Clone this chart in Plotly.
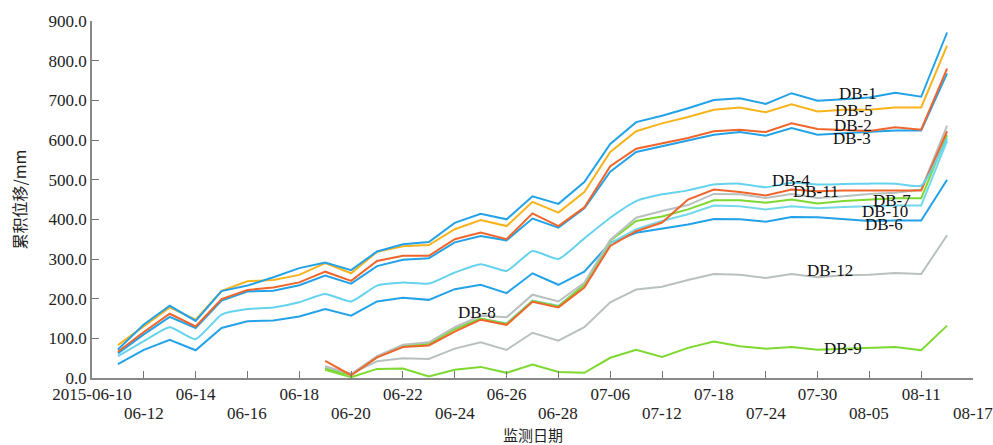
import plotly.graph_objects as go

# ---- categories (monitoring dates) ----
DATES = ["2015-06-10", "06-11", "06-12", "06-13", "06-14", "06-15", "06-16", "06-17",
         "06-18", "06-19", "06-20", "06-21", "06-22", "06-23", "06-24", "06-25",
         "06-26", "06-27", "06-28", "07-02", "07-06", "07-09", "07-12", "07-15",
         "07-18", "07-21", "07-24", "07-27", "07-30", "08-02", "08-05", "08-08",
         "08-11", "08-14", "08-17"]

TOP_TICKS = ["2015-06-10", "06-14", "06-18", "06-22", "06-26", "07-06", "07-18", "07-30", "08-11"]
BOTTOM_TICKS = ["06-12", "06-16", "06-20", "06-24", "06-28", "07-12", "07-24", "08-05", "08-17"]

# early points: DATES[1:34]; late points: DATES[9:34]
EARLY_DATES = DATES[1:34]
LATE_DATES = DATES[9:34]

DB1 = [72, 135, 182, 144, 219, 233, 254, 277, 291, 272, 319, 337, 343, 391, 414, 400, 458,
       439, 494, 590, 645, 661, 680, 701, 705, 691, 718, 699, 703, 707, 719, 709, 871]
DB5 = [83, 130, 178, 147, 220, 244, 247, 260, 290, 264, 318, 332, 335, 375, 398, 383, 444,
       417, 469, 570, 622, 642, 658, 676, 682, 670, 690, 672, 676, 676, 682, 682, 838]
DB2 = [66, 116, 162, 130, 199, 222, 228, 241, 268, 245, 295, 308, 308, 350, 367, 350, 415,
       383, 430, 534, 578, 592, 605, 622, 626, 620, 642, 628, 626, 623, 632, 626, 780]
DB3 = [62, 110, 154, 126, 195, 218, 220, 234, 258, 238, 282, 298, 302, 342, 358, 347, 402,
       379, 428, 520, 570, 584, 599, 613, 620, 611, 630, 613, 617, 620, 624, 624, 768]
DB4 = [55, 93, 128, 98, 160, 174, 178, 191, 212, 193, 233, 241, 238, 266, 287, 270, 320,
       300, 352, 404, 446, 463, 473, 488, 490, 481, 492, 488, 489, 490, 490, 485, 605]
DB6 = [35, 71, 96, 70, 126, 143, 145, 155, 174, 157, 193, 202, 197, 224, 235, 214, 264,
       235, 268, 341, 366, 377, 387, 401, 400, 394, 406, 405, 400, 396, 397, 397, 500]

DB7 = [28, 10, 55, 84, 90, 128, 157, 153, 210, 193, 240, 348, 404, 421, 436, 464, 463,
       454, 464, 454, 458, 464, 467, 475, 636]
DB8 = [24, 8, 53, 80, 86, 123, 150, 136, 194, 180, 236, 346, 396, 407, 425, 448, 448,
       442, 450, 440, 446, 450, 453, 453, 612]
DB10 = [26, 9, 52, 81, 87, 125, 149, 138, 195, 182, 234, 340, 375, 396, 413, 435, 433,
        425, 433, 428, 431, 433, 435, 435, 598]
DB11 = [43, 7, 52, 78, 82, 117, 147, 134, 192, 178, 228, 333, 370, 392, 450, 475, 469,
        460, 475, 471, 473, 473, 473, 473, 622]
DB12 = [30, 11, 42, 50, 48, 74, 90, 71, 114, 94, 128, 191, 223, 230, 247, 262, 260,
        252, 262, 254, 259, 260, 265, 262, 360]
DB9 = [21, 2, 23, 24, 4, 21, 28, 13, 34, 15, 13, 51, 71, 53, 76, 92, 80,
       74, 78, 71, 74, 76, 78, 70, 132]

BLUE = "#23A2E8"
YELLOW = "#F6B41A"
ORANGE = "#F0652B"
CYAN = "#66D3EE"
LCYAN = "#74D8EC"
GREEN = "#7DD830"
GREY = "#B9C0C0"

series = [
    ("DB-12", LATE_DATES, DB12, GREY, "linear"),
    ("DB-9", LATE_DATES, DB9, GREEN, "linear"),
    ("DB-6", EARLY_DATES, DB6, BLUE, "linear"),
    ("DB-10", LATE_DATES, DB10, LCYAN, "linear"),
    ("DB-8", LATE_DATES, DB8, GREEN, "linear"),
    ("DB-7", LATE_DATES, DB7, GREY, "linear"),
    ("DB-11", LATE_DATES, DB11, ORANGE, "linear"),
    ("DB-4", EARLY_DATES, DB4, CYAN, "spline"),
    ("DB-3", EARLY_DATES, DB3, BLUE, "linear"),
    ("DB-2", EARLY_DATES, DB2, ORANGE, "linear"),
    ("DB-5", EARLY_DATES, DB5, YELLOW, "linear"),
    ("DB-1", EARLY_DATES, DB1, BLUE, "linear"),
]

fig = go.Figure()
for name, xs, ys, color, shape in series:
    line = dict(color=color, width=2, shape=shape)
    if shape == "spline":
        line["smoothing"] = 0.5
    fig.add_trace(go.Scatter(x=xs, y=ys, mode="lines", name=name, line=line))

SERIF = "Liberation Serif"
CJK = "Noto Sans CJK SC"

# series name labels (category index, value)
LABELS = [("DB-1", 29.55, 718), ("DB-5", 29.4, 674), ("DB-2", 29.37, 637),
          ("DB-3", 29.33, 605), ("DB-4", 26.98, 498), ("DB-11", 27.94, 469),
          ("DB-7", 30.88, 448), ("DB-10", 30.6, 421), ("DB-6", 30.58, 387),
          ("DB-12", 28.47, 272), ("DB-9", 29.0, 74), ("DB-8", 14.85, 164)]
for txt, xk, yv in LABELS:
    fig.add_annotation(x=xk, y=yv, xref="x", yref="y", text=txt, showarrow=False,
                       xanchor="center", yanchor="middle",
                       font=dict(family=SERIF, size=17, color="#111"))

# second row of date tick labels
for d in BOTTOM_TICKS:
    fig.add_annotation(x=d, xref="x", y=0, yref="paper", xanchor="center",
                       yanchor="middle", yshift=-35, text=d, showarrow=False,
                       font=dict(family=SERIF, size=17, color="#222"))

# axis titles
fig.add_annotation(x=0, xref="paper", xshift=-74, y=0.5, yref="paper",
                   xanchor="center", yanchor="middle",
                   text="累积位移/mm", textangle=-90, showarrow=False,
                   font=dict(family=CJK, size=16, color="#222"))
fig.add_annotation(x=0.5, xref="paper", y=0, yref="paper", yshift=-56,
                   xanchor="center", yanchor="middle", text="监测日期", showarrow=False,
                   font=dict(family=CJK, size=15, color="#222"))

tickvals = [DATES[i] for i in range(0, 35, 2)]
ticktext = [d if d in TOP_TICKS else "" for d in tickvals]

fig.update_layout(
    width=993, height=445,
    margin=dict(l=92, r=20, t=19, b=67),
    paper_bgcolor="white", plot_bgcolor="white",
    showlegend=False,
    xaxis=dict(type="category", categoryorder="array", categoryarray=DATES,
               range=[0, 34], tickvals=tickvals, ticktext=ticktext,
               ticks="inside", ticklen=7, tickcolor="#777", tickwidth=1,
               showline=True, linecolor="#888", linewidth=1.5,
               showgrid=False, zeroline=False,
               tickfont=dict(family=SERIF, size=17, color="#222")),
    yaxis=dict(range=[0, 900], tickvals=[0, 100, 200, 300, 400, 500, 600, 700, 800, 900],
               tickformat=".1f", ticks="inside", ticklen=7, tickcolor="#777",
               showline=True, linecolor="#888", linewidth=1.5,
               showgrid=False, zeroline=False,
               tickfont=dict(family=SERIF, size=17, color="#222")),
)

# remove the default page margin so the 993x445 figure fills the window exactly
fig.write_html(
    "out.html",
    config={"displayModeBar": False},
    post_script="document.body.style.margin='0';document.body.style.overflow='hidden';",
)
